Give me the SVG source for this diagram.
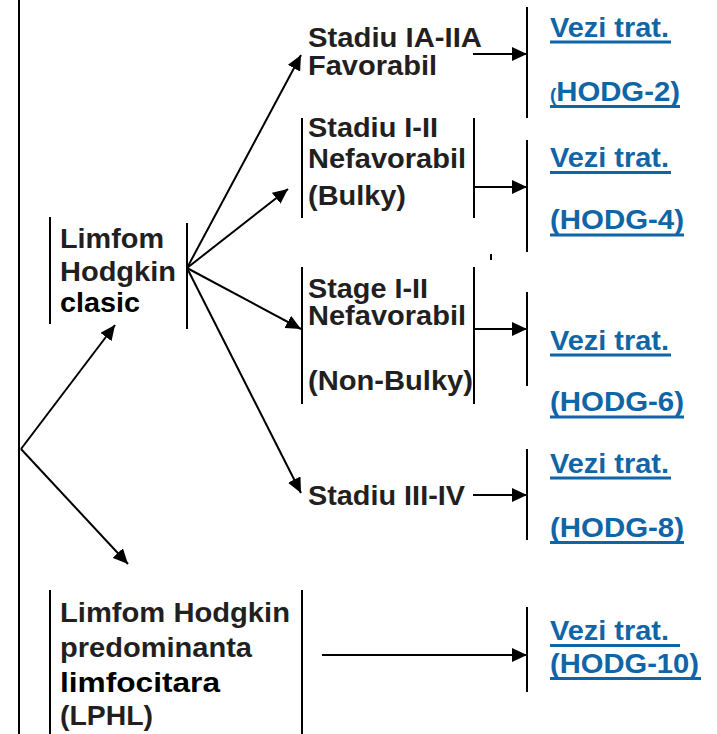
<svg xmlns="http://www.w3.org/2000/svg" width="717" height="734" viewBox="0 0 717 734">
  <style>
    .t { font-family: "Liberation Sans", Arial, Helvetica, sans-serif; font-weight: bold; font-size: 28px; fill: #231f20; }
    .k { fill: #000000; }
    .lnk { font-family: "Liberation Sans", Arial, Helvetica, sans-serif; font-weight: bold; font-size: 28px; fill: #0f65a6; }
    .ul { fill: #0f65a6; }
    .bar { stroke: #000000; stroke-width: 2; fill: none; }
    .conn { stroke: #000000; stroke-width: 2; fill: none; }
    .arr { marker-end: url(#head); }
  </style>
  <defs>
    <marker id="head" viewBox="0 0 15 14" refX="15" refY="7" markerWidth="15" markerHeight="14" markerUnits="userSpaceOnUse" orient="auto">
      <path d="M0,0 L15,7 L0,14 z" fill="#000000"/>
    </marker>
  </defs>
  <rect width="717" height="734" fill="#ffffff"/>

  <!-- root line -->
  <g id="root">
    <line class="bar" x1="19" y1="0" x2="19" y2="734"/>
  </g>

  <!-- classic Hodgkin -->
  <g id="node-clasic">
    <line class="bar" x1="50" y1="217" x2="50" y2="324"/>
    <line class="bar" x1="187" y1="223" x2="187" y2="329"/>
    <text class="t" x="60" y="248" textLength="104" lengthAdjust="spacingAndGlyphs">Limfom</text>
    <text class="t" x="60" y="281" textLength="116" lengthAdjust="spacingAndGlyphs">Hodgkin</text>
    <text class="t k" x="60" y="312" textLength="80" lengthAdjust="spacingAndGlyphs">clasic</text>
  </g>

  <!-- stage IA-IIA -->
  <g id="node-ia-iia">
    <text class="t" x="308" y="47" textLength="174" lengthAdjust="spacingAndGlyphs">Stadiu IA-IIA</text>
    <text class="t" x="308" y="75" textLength="129" lengthAdjust="spacingAndGlyphs">Favorabil</text>
  </g>

  <!-- stage I-II bulky -->
  <g id="node-bulky">
    <line class="bar" x1="302" y1="118" x2="302" y2="218"/>
    <line class="bar" x1="474" y1="118" x2="474" y2="218"/>
    <text class="t" x="308" y="137" textLength="130" lengthAdjust="spacingAndGlyphs">Stadiu I-II</text>
    <text class="t" x="308" y="168" textLength="158" lengthAdjust="spacingAndGlyphs">Nefavorabil</text>
    <text class="t" x="308" y="205" textLength="98" lengthAdjust="spacingAndGlyphs">(Bulky)</text>
  </g>

  <!-- stage I-II non-bulky -->
  <g id="node-nonbulky">
    <line class="bar" x1="302" y1="267" x2="302" y2="404"/>
    <line class="bar" x1="474" y1="267" x2="474" y2="404"/>
    <text class="t" x="308" y="298" textLength="120" lengthAdjust="spacingAndGlyphs">Stage I-II</text>
    <text class="t" x="308" y="325" textLength="158" lengthAdjust="spacingAndGlyphs">Nefavorabil</text>
    <text class="t" x="308" y="390" textLength="165" lengthAdjust="spacingAndGlyphs">(Non-Bulky)</text>
  </g>

  <!-- stage III-IV -->
  <g id="node-iii-iv">
    <text class="t" x="308" y="505" textLength="157" lengthAdjust="spacingAndGlyphs">Stadiu III-IV</text>
  </g>

  <!-- nodular lymphocyte predominant -->
  <g id="node-lphl">
    <line class="bar" x1="50" y1="590" x2="50" y2="734"/>
    <line class="bar" x1="302" y1="590" x2="302" y2="734"/>
    <text class="t" x="60" y="622" textLength="230" lengthAdjust="spacingAndGlyphs">Limfom Hodgkin</text>
    <text class="t" x="60" y="657" textLength="192" lengthAdjust="spacingAndGlyphs">predominanta</text>
    <text class="t k" x="60" y="692" textLength="160" lengthAdjust="spacingAndGlyphs">limfocitara</text>
    <text class="t" x="60" y="725" textLength="93" lengthAdjust="spacingAndGlyphs">(LPHL)</text>
  </g>

  <!-- treatment references -->
  <g id="ref-hodg2">
    <line class="bar" x1="527" y1="7" x2="527" y2="118"/>
    <text class="lnk" x="550" y="37" textLength="119" lengthAdjust="spacingAndGlyphs">Vezi trat.</text>
    <rect class="ul" x="550" y="40.5" width="121" height="3"/>
    <text class="lnk" x="550" y="101" textLength="130" lengthAdjust="spacingAndGlyphs"><tspan font-size="18">(</tspan>HODG-2)</text>
    <rect class="ul" x="550" y="105" width="130" height="3"/>
  </g>

  <g id="ref-hodg4">
    <line class="bar" x1="527" y1="140" x2="527" y2="252"/>
    <line class="bar" x1="491" y1="254" x2="491" y2="260"/>
    <text class="lnk" x="550" y="167" textLength="119" lengthAdjust="spacingAndGlyphs">Vezi trat.</text>
    <rect class="ul" x="550" y="171" width="121" height="3"/>
    <text class="lnk" x="550" y="229" textLength="134" lengthAdjust="spacingAndGlyphs">(HODG-4)</text>
    <rect class="ul" x="550" y="233.5" width="134" height="3"/>
  </g>

  <g id="ref-hodg6">
    <line class="bar" x1="527" y1="292" x2="527" y2="386"/>
    <text class="lnk" x="550" y="350" textLength="119" lengthAdjust="spacingAndGlyphs">Vezi trat.</text>
    <rect class="ul" x="550" y="353.5" width="121" height="3"/>
    <text class="lnk" x="550" y="411" textLength="134" lengthAdjust="spacingAndGlyphs">(HODG-6)</text>
    <rect class="ul" x="550" y="415.5" width="134" height="3"/>
  </g>

  <g id="ref-hodg8">
    <line class="bar" x1="527" y1="449" x2="527" y2="540"/>
    <text class="lnk" x="550" y="473" textLength="119" lengthAdjust="spacingAndGlyphs">Vezi trat.</text>
    <rect class="ul" x="550" y="476.5" width="121" height="3"/>
    <text class="lnk" x="550" y="537" textLength="134" lengthAdjust="spacingAndGlyphs">(HODG-8)</text>
    <rect class="ul" x="550" y="541" width="134" height="3"/>
  </g>

  <g id="ref-hodg10">
    <line class="bar" x1="527" y1="607" x2="527" y2="692"/>
    <text class="lnk" x="550" y="640" textLength="119" lengthAdjust="spacingAndGlyphs">Vezi trat.</text>
    <rect class="ul" x="550" y="644" width="130" height="3"/>
    <text class="lnk" x="550" y="673" textLength="149" lengthAdjust="spacingAndGlyphs">(HODG-10)</text>
    <rect class="ul" x="550" y="677" width="151" height="3"/>
  </g>

  <!-- connectors -->
  <g id="connectors">
    <line class="conn arr" x1="21" y1="449" x2="115" y2="325"/>
    <line class="conn arr" x1="21" y1="449" x2="128" y2="564"/>
    <line class="conn arr" x1="187" y1="268" x2="301" y2="55"/>
    <line class="conn arr" x1="187" y1="268" x2="288" y2="189"/>
    <line class="conn arr" x1="187" y1="268" x2="301" y2="329"/>
    <line class="conn arr" x1="187" y1="268" x2="301" y2="493"/>
    <line class="conn arr" x1="473" y1="54" x2="527" y2="54"/>
    <line class="conn arr" x1="474" y1="187" x2="527" y2="187"/>
    <line class="conn arr" x1="474" y1="329" x2="527" y2="329"/>
    <line class="conn arr" x1="473" y1="495" x2="527" y2="495"/>
    <line class="conn arr" x1="322" y1="655" x2="527" y2="655"/>
  </g>
</svg>
